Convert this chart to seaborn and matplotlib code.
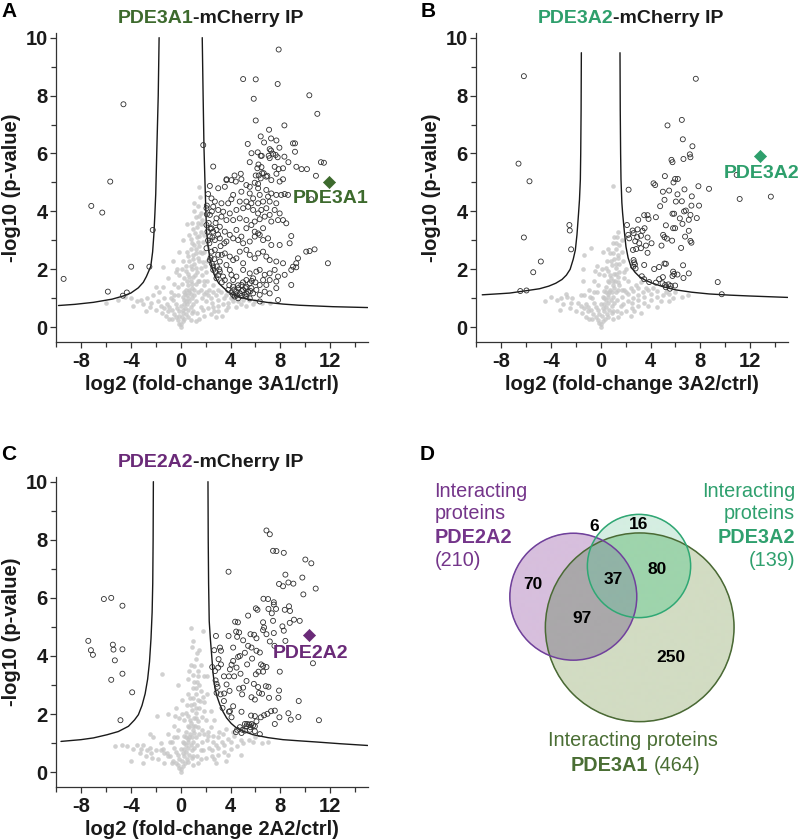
import numpy as np
import pandas as pd
import seaborn as sns
import matplotlib.pyplot as plt
from matplotlib.patches import Circle
from matplotlib.ticker import MultipleLocator

# --- 1. DATA (log2 fold-change, -log10 p-value) ---

# Panel A: PDE3A1-mCherry IP
A_SIG = [
    (7.86, 9.59), (5.01, 8.57), (6.02, 8.56), (7.78, 8.40), (5.86, 7.89), (10.32, 8.01), (10.96, 7.37),
    (6.02, 7.14), (8.32, 6.97), (7.09, 6.82), (6.42, 6.59), (7.25, 6.52), (6.69, 6.38), (5.38, 6.33),
    (7.68, 6.45), (9.01, 6.35), (9.17, 6.35), (1.81, 6.29), (7.92, 6.20), (7.14, 6.15), (7.25, 6.10),
    (5.68, 6.01), (6.18, 6.04), (6.42, 5.92), (6.50, 5.92), (9.17, 6.06), (7.41, 5.99), (7.62, 5.95),
    (7.78, 5.87), (7.06, 5.92), (7.14, 5.84), (8.32, 5.89), (5.54, 5.70), (6.24, 5.62), (6.15, 5.49),
    (6.48, 5.53), (7.54, 5.54), (7.86, 5.46), (8.21, 5.49), (8.64, 5.70), (9.28, 5.54), (9.70, 5.46),
    (10.13, 5.46), (11.25, 5.70), (11.49, 5.68), (2.61, 5.55), (4.82, 5.30), (4.32, 5.24), (6.02, 5.24),
    (6.26, 5.24), (6.53, 5.32), (6.66, 5.32), (6.95, 5.23), (7.68, 5.30), (10.85, 5.23), (3.68, 5.11),
    (10.48, 4.42), (6.35, 0.89),
    (3.67, 5.08), (4.07, 5.08), (4.42, 5.03), (4.87, 5.11), (5.27, 4.91), (5.54, 4.85), (5.94, 4.99),
    (6.21, 4.95), (6.42, 5.14), (6.87, 5.20), (7.27, 5.08), (7.94, 5.03), (8.21, 5.11),
    (2.34, 4.88), (3.01, 4.80), (3.54, 4.85), (4.21, 4.57), (4.87, 4.68), (5.54, 4.62), (5.81, 4.45),
    (6.21, 4.80), (6.34, 4.57), (6.87, 4.74), (7.01, 4.51), (7.27, 4.62), (7.67, 4.57), (8.07, 4.57),
    (8.34, 4.60), (8.61, 4.57), (4.74, 4.34), (5.27, 4.34), (5.67, 4.28), (6.21, 4.28), (6.61, 4.34),
    (7.14, 4.34), (2.47, 4.45), (2.74, 4.34), (3.27, 4.28), (3.81, 4.28), (4.07, 4.42), (7.67, 4.28),
    (2.07, 4.11), (2.61, 4.16), (3.01, 4.05), (3.41, 3.99), (3.94, 3.93), (4.47, 4.05), (5.01, 4.11),
    (5.41, 4.16), (5.81, 4.05), (6.21, 3.93), (6.47, 4.05), (6.87, 4.11), (7.14, 3.88), (7.54, 4.05),
    (7.94, 3.93), (8.21, 3.70), (2.34, 3.88), (2.87, 3.76), (3.27, 3.82), (3.67, 3.70), (4.21, 3.70),
    (4.74, 3.76), (5.27, 3.70), (5.94, 3.65), (6.34, 3.73), (6.74, 3.82), (7.27, 3.65), (7.81, 3.70),
    (8.47, 3.59),
    (2.07, 3.53), (2.47, 3.42), (2.87, 3.36), (3.14, 3.47), (3.54, 3.30), (3.94, 3.19), (4.47, 3.36),
    (4.87, 3.13), (5.27, 3.42), (5.67, 3.53), (5.94, 3.30), (6.21, 3.24), (6.61, 3.42), (7.01, 3.07),
    (7.27, 2.84), (7.94, 2.84), (8.74, 2.90), (8.87, 3.15), (2.34, 3.13), (2.74, 3.01), (3.14, 3.07),
    (3.67, 2.96), (4.21, 3.07), (4.61, 3.01), (5.01, 2.90), (5.54, 2.96), (5.94, 3.13), (6.34, 3.19),
    (6.61, 3.01),
    (2.07, 2.73), (2.47, 2.61), (2.74, 2.67), (3.01, 2.50), (3.54, 2.55), (3.94, 2.44), (4.21, 2.32),
    (4.47, 2.38), (5.01, 2.21), (5.54, 2.50), (5.94, 2.38), (6.21, 2.55), (6.61, 2.61), (6.87, 2.44),
    (7.14, 2.32), (7.67, 2.27), (8.21, 2.21), (9.41, 2.38), (9.27, 2.21), (10.07, 2.61), (10.34, 2.63),
    (10.74, 2.69), (11.81, 2.21), (2.34, 2.32), (3.14, 2.27), (3.67, 2.15), (4.74, 2.61), (5.27, 2.67),
    (2.61, 1.98), (3.14, 1.92), (3.94, 1.98), (4.07, 1.81), (4.47, 1.75), (5.01, 1.98), (5.54, 1.86),
    (6.07, 1.92), (6.34, 1.98), (6.74, 1.81), (7.14, 1.86), (7.54, 1.98), (7.81, 1.75), (8.34, 1.81),
    (8.87, 1.98), (9.01, 2.09), (9.27, 2.07), (2.87, 1.69), (3.54, 1.63), (4.21, 1.63), (5.27, 1.63),
    (5.81, 1.69), (6.61, 1.63), (7.14, 1.63), (7.67, 1.58), (8.87, 1.46),
    (3.81, 1.29), (4.07, 1.20), (4.21, 1.12), (4.47, 1.23), (4.61, 1.35), (4.74, 1.17), (4.87, 1.46),
    (5.01, 1.29), (5.14, 1.12), (5.27, 1.40), (5.41, 1.23), (5.54, 1.52), (5.67, 1.35), (5.81, 1.17),
    (4.34, 1.06), (4.61, 1.00), (4.87, 1.08), (5.27, 1.06), (5.54, 1.00), (6.07, 1.29), (6.34, 1.12),
    (6.74, 1.23), (7.14, 1.17), (7.81, 0.94), (7.67, 1.35), (6.34, 1.46), (6.87, 1.46),
    (4.30, 1.30), (4.50, 1.10), (4.90, 1.25), (5.20, 1.35), (5.30, 1.15), (5.60, 1.25), (4.60, 1.45),
    (5.00, 1.55), (4.20, 1.40), (3.90, 1.45), (5.70, 1.60), (6.00, 1.55),
    (2.10, 3.90), (2.15, 3.30), (2.20, 3.00), (2.30, 2.90), (2.25, 3.60), (2.40, 2.40), (2.50, 2.20),
    (2.60, 2.10), (2.55, 3.10), (2.70, 2.35), (2.80, 1.90), (2.90, 2.10), (3.00, 1.80), (3.10, 2.00),
    (3.30, 1.55), (3.40, 1.75), (2.40, 3.40), (2.60, 3.30), (2.80, 3.60), (3.00, 3.20), (3.20, 2.80),
    (3.30, 2.50), (3.50, 2.90), (2.10, 4.20), (2.20, 4.60), (2.50, 4.00),
    (-4.59, 7.70), (-5.65, 5.03), (-7.17, 4.19), (-6.29, 3.96), (-2.24, 3.36), (-2.51, 2.09),
    (-3.97, 2.09), (-9.39, 1.67), (-5.84, 1.23), (-4.32, 1.20), (-4.64, 1.09),
]
A_BG = [
    (0.00, 0.02), (0.05, 0.10), (-0.10, 0.12), (0.15, 0.20), (-0.20, 0.25), (0.30, 0.30), (-0.35, 0.35),
    (0.10, 0.35), (0.45, 0.45), (-0.50, 0.45), (0.20, 0.50), (-0.15, 0.55), (0.60, 0.60), (-0.70, 0.60),
    (0.35, 0.65), (0.80, 0.70), (-0.90, 0.70), (0.50, 0.80), (1.00, 0.80), (-0.40, 0.80), (-1.10, 0.80),
    (0.70, 0.90), (1.20, 0.90), (0.30, 0.95), (-0.60, 0.95), (0.90, 1.00), (-1.30, 1.00), (0.50, 1.10),
    (1.10, 1.10), (-0.20, 1.10), (0.70, 1.20), (1.40, 1.20), (-0.80, 1.20), (0.40, 1.30), (0.90, 1.35),
    (1.60, 1.30), (0.60, 1.45), (1.20, 1.50), (-0.50, 1.50), (0.80, 1.60), (1.50, 1.60), (0.30, 1.70),
    (1.00, 1.75), (1.70, 1.80), (0.60, 1.85), (1.30, 1.90), (0.90, 2.00), (1.60, 2.05), (0.40, 2.10),
    (1.10, 2.20), (1.80, 2.25), (0.70, 2.30), (1.40, 2.40), (1.00, 2.50), (1.70, 2.55), (0.50, 2.60),
    (1.20, 2.70), (1.50, 2.80), (0.90, 2.90), (1.80, 2.95), (1.30, 3.10), (0.70, 3.20), (1.60, 3.30),
    (1.00, 3.40), (0.50, 3.55), (1.40, 3.60), (1.20, 3.80), (1.60, 3.95), (1.35, 4.20), (1.55, 4.50),
    (1.50, 4.85), (-0.30, 2.00), (-0.60, 2.30), (-0.10, 2.60), (0.20, 3.00), (-1.00, 1.70),
    (-1.40, 1.40), (-1.39, 2.09), (0.10, 1.50), (0.20, 2.30), (0.80, 2.70), (1.90, 2.60), (1.90, 3.20),
    (1.75, 3.70), (1.10, 4.00),
    (0.15, 0.60), (0.25, 0.80), (0.40, 0.90), (0.55, 1.00), (0.35, 1.15), (0.65, 1.30), (0.85, 1.15),
    (1.05, 1.30), (0.50, 1.60), (0.70, 1.75), (0.90, 1.50), (1.15, 1.80), (1.35, 1.60), (0.45, 1.95),
    (0.80, 2.10), (1.20, 2.05), (1.50, 2.30), (0.60, 2.45), (0.95, 2.35), (1.25, 2.55), (1.55, 2.60),
    (1.10, 2.85), (1.35, 2.95), (0.80, 3.05), (1.15, 3.25), (1.45, 3.15), (0.90, 3.60), (1.30, 3.45),
    (1.65, 3.55), (1.45, 3.85), (1.05, 4.30), (-0.10, 0.40), (-0.30, 0.65), (-0.50, 1.10), (-0.80, 1.00),
    (-0.25, 1.40), (-0.10, 1.80), (0.10, 2.00), (-0.40, 1.90), (0.05, 0.75), (0.25, 1.20), (0.15, 1.05),
    (1.30, 0.50), (1.60, 0.70), (1.00, 0.55), (2.50, 0.85), (3.00, 0.95), (3.50, 1.00), (4.20, 1.05),
    (4.80, 0.80), (5.80, 0.80), (2.70, 0.55), (3.80, 0.70), (1.70, 1.00), (1.85, 1.15), (2.20, 1.10),
    (1.85, 1.60), (1.95, 2.10), (2.60, 1.20), (3.00, 1.30), (-1.00, 0.55), (-1.60, 0.75), (-2.40, 0.85),
    (-3.20, 0.95), (-2.70, 1.00), (-1.30, 0.65), (-0.70, 0.30), (0.60, 0.35), (0.90, 0.50),
    (1.80, 0.60), (2.20, 0.65), (2.60, 0.70), (3.00, 0.75), (3.40, 0.80), (3.80, 0.85), (4.20, 0.90),
    (4.60, 0.90), (5.00, 0.95), (5.50, 0.95), (6.00, 0.90), (2.00, 0.90), (2.40, 1.00), (2.80, 1.10),
    (3.20, 1.20), (3.60, 1.10), (4.00, 1.00), (2.30, 1.30), (2.60, 1.45), (2.10, 1.60), (1.90, 0.40),
    (2.40, 0.45), (3.00, 0.55), (3.60, 0.60), (4.40, 0.70), (5.20, 0.75), (6.50, 0.85), (7.20, 0.85),
    (1.50, 0.30), (1.20, 0.20), (0.80, 0.25), (2.80, 0.35), (3.30, 0.40), (2.00, 1.20), (1.90, 1.45),
    (2.00, 1.90), (2.10, 2.30),
    (-1.50, 0.50), (-2.00, 0.60), (-2.50, 0.70), (-3.00, 0.80), (-3.50, 0.90), (-4.00, 1.00),
    (-4.50, 1.05), (-5.00, 0.95), (-1.80, 0.90), (-2.20, 1.10), (-1.20, 0.40), (-0.90, 0.30),
    (-2.80, 0.55), (-3.80, 0.75), (-2.00, 1.40), (-1.70, 1.20), (-6.00, 0.85),
]
A_CURVE_L = [(-9.8, 0.75), (-8.5, 0.79), (-7.0, 0.86), (-5.5, 0.97), (-4.6, 1.08), (-4.0, 1.18),
             (-3.4, 1.36), (-3.0, 1.55), (-2.75, 1.75), (-2.4, 2.1), (-2.25, 2.6), (-2.15, 3.2),
             (-2.07, 3.9), (-2.0, 4.6), (-1.92, 6.0), (-1.8, 8.0), (-1.73, 10.0)]
A_CURVE_R = [(1.73, 10.0), (1.8, 8.0), (1.87, 6.2), (1.95, 5.0), (2.02, 4.0), (2.08, 3.3), (2.2, 2.8),
             (2.35, 2.35), (2.55, 2.0), (2.75, 1.75), (3.05, 1.52), (3.4, 1.38), (3.8, 1.22), (4.2, 1.13),
             (4.8, 1.03), (5.5, 0.96), (6.9, 0.86), (8.2, 0.8), (9.5, 0.76), (12.2, 0.71), (15.0, 0.68)]
A_HIT = (11.87, 5.03)
A_LABEL = (9.0, 4.45)

# Panel B: PDE3A2-mCherry IP
B_SIG = [
    (-6.16, 8.67), (7.63, 8.58), (6.51, 7.16), (5.36, 6.97), (6.59, 6.49), (7.36, 6.25), (-6.59, 5.65),
    (-5.71, 5.04), (7.15, 5.97), (7.20, 5.87), (6.64, 5.81), (5.68, 5.78), (5.76, 5.70), (5.15, 5.22),
    (10.91, 5.26), (5.97, 5.12), (6.19, 5.12), (5.84, 5.00), (4.24, 4.97), (4.37, 4.91), (2.24, 4.75),
    (7.84, 4.87), (8.69, 4.78), (4.99, 4.68), (5.49, 4.72), (6.16, 4.59), (6.72, 4.76), (5.12, 4.40),
    (11.15, 4.43), (13.65, 4.51), (6.03, 4.34), (7.31, 4.52), (6.51, 4.35), (4.77, 4.18), (7.28, 4.20),
    (7.89, 4.20), (5.89, 3.92), (5.76, 3.92), (6.69, 4.00), (6.83, 4.03), (3.49, 3.87), (3.76, 3.87),
    (3.84, 3.74), (4.43, 3.80), (3.01, 3.71), (6.35, 3.76), (7.20, 3.88), (7.71, 3.77), (7.07, 3.71),
    (2.11, 3.53), (5.23, 3.52), (5.81, 3.42), (5.97, 3.42), (6.56, 3.57), (3.52, 3.42), (2.96, 3.38),
    (2.56, 3.34), (3.36, 3.33), (7.07, 3.33), (2.21, 3.19), (2.29, 3.07), (2.64, 3.25), (2.93, 3.11),
    (3.23, 3.16), (3.76, 3.10), (5.01, 3.19), (5.12, 3.11), (5.31, 3.06), (6.77, 3.13), (7.20, 2.98),
    (7.28, 2.92), (5.73, 2.99), (2.77, 2.97), (3.09, 2.90), (3.63, 2.82), (4.08, 2.90), (3.23, 2.73),
    (2.85, 2.70), (2.59, 2.67), (6.45, 2.74), (3.76, 2.57), (4.88, 2.82), (2.64, 2.32), (2.69, 2.24),
    (2.75, 2.17), (2.61, 2.09), (2.80, 2.03), (3.49, 2.15), (4.29, 2.01), (4.69, 2.08), (5.12, 2.20),
    (5.23, 2.19), (6.61, 2.14), (5.81, 1.92), (5.89, 1.84), (5.76, 1.77), (6.16, 1.82), (7.07, 1.86),
    (6.64, 1.70), (4.99, 1.73), (3.30, 1.76), (3.49, 1.66), (4.69, 1.66), (3.89, 1.56), (4.43, 1.54),
    (4.96, 1.52), (5.17, 1.46), (5.44, 1.48), (5.63, 1.43), (5.97, 1.44), (5.55, 1.33), (5.23, 1.38),
    (9.39, 1.56), (9.71, 1.14),
    (-2.51, 3.53), (-2.48, 3.34), (-6.16, 3.10), (-2.37, 2.69), (-4.80, 2.27), (-5.41, 1.90),
    (-6.45, 1.25), (-5.95, 1.27),
]
B_BG = [
    (0.00, 0.02), (0.05, 0.10), (-0.10, 0.15), (0.20, 0.20), (-0.25, 0.25), (0.35, 0.30), (-0.40, 0.35),
    (0.10, 0.40), (0.50, 0.45), (-0.60, 0.45), (0.30, 0.55), (-0.20, 0.60), (0.70, 0.60), (-0.80, 0.60),
    (0.45, 0.70), (0.90, 0.75), (-1.00, 0.70), (0.60, 0.85), (1.10, 0.85), (-0.50, 0.85), (-1.20, 0.80),
    (0.80, 0.95), (1.30, 0.95), (0.30, 1.00), (-0.70, 1.00), (1.00, 1.05), (-1.30, 1.10), (0.55, 1.15),
    (1.20, 1.20), (-0.30, 1.20), (0.75, 1.30), (1.40, 1.30), (-0.90, 1.30), (0.40, 1.40), (0.95, 1.45),
    (1.50, 1.45), (0.65, 1.55), (1.15, 1.60), (-0.50, 1.60), (0.85, 1.70), (1.35, 1.75), (0.30, 1.80),
    (1.05, 1.85), (1.50, 1.90), (0.60, 1.95), (1.25, 2.05), (0.90, 2.15), (1.45, 2.20), (0.50, 2.30),
    (1.10, 2.35), (1.35, 2.50), (0.75, 2.55), (1.20, 2.70), (1.45, 2.85), (0.95, 2.90), (1.30, 3.10),
    (-0.77, 2.72), (-0.30, 2.10), (0.20, 2.60), (0.96, 4.89),
    (0.15, 0.65), (0.30, 0.80), (0.45, 0.95), (0.60, 1.05), (0.40, 1.20), (0.70, 1.20), (0.90, 1.20),
    (1.05, 1.35), (0.55, 1.60), (0.75, 1.80), (0.95, 1.60), (1.20, 1.85), (1.35, 1.55), (0.45, 2.05),
    (0.80, 2.30), (1.20, 2.20), (1.40, 2.40), (0.60, 2.70), (1.00, 2.55), (1.25, 2.90), (1.10, 3.10),
    (1.40, 3.30), (-0.10, 0.45), (-0.35, 0.70), (-0.55, 1.20), (-0.85, 1.05), (-0.25, 1.45),
    (-0.10, 1.85), (0.10, 2.00), (-0.45, 1.95), (0.05, 0.80), (0.25, 1.25), (0.15, 1.05), (1.30, 0.55),
    (1.60, 0.75), (1.00, 0.55), (2.50, 0.85), (3.00, 0.95), (3.50, 1.05), (4.00, 1.15), (4.80, 0.90),
    (5.80, 1.00), (2.70, 0.55), (3.80, 0.75), (1.70, 1.05), (1.85, 1.30), (2.20, 1.15), (1.90, 1.90),
    (2.60, 1.25), (3.00, 1.35), (-1.00, 0.55), (-1.60, 0.75), (-2.40, 0.85), (-3.20, 1.00),
    (-2.70, 1.05), (-1.30, 0.65), (-0.70, 0.30), (0.60, 0.35), (0.90, 0.50), (3.60, 1.35), (4.50, 1.25),
    (5.20, 1.20),
    (1.60, 0.50), (2.00, 0.55), (2.50, 0.65), (3.00, 0.75), (3.50, 0.85), (4.00, 0.95), (4.50, 1.05),
    (5.00, 1.10), (5.50, 1.15), (6.00, 1.20), (1.80, 0.80), (2.20, 0.90), (2.60, 1.00), (3.00, 1.10),
    (3.40, 1.20), (3.80, 1.30), (4.20, 1.35), (2.00, 1.20), (2.40, 1.35), (2.80, 1.45), (3.20, 1.55),
    (2.20, 1.60), (1.90, 1.70), (2.00, 2.00), (1.80, 2.30), (1.70, 1.30), (1.40, 0.35), (1.00, 0.30),
    (2.40, 0.40), (3.20, 0.50), (4.50, 0.70), (5.50, 0.90), (6.50, 1.05), (7.00, 1.10), (1.70, 2.60),
    (1.70, 3.00),
    (-1.50, 0.50), (-2.00, 0.55), (-2.50, 0.65), (-3.00, 0.80), (-3.50, 0.95), (-4.00, 1.05),
    (-1.80, 0.85), (-2.30, 1.00), (-2.80, 1.15), (-1.60, 1.10), (-1.40, 1.60), (-1.20, 0.35),
    (-0.90, 0.30), (-3.30, 0.60), (-4.50, 0.90), (-1.40, 2.00), (-1.30, 2.50),
]
B_CURVE_L = [(-9.5, 1.12), (-8.0, 1.16), (-7.3, 1.18), (-6.0, 1.26), (-4.9, 1.33), (-4.16, 1.42),
             (-3.6, 1.52), (-3.1, 1.65), (-2.75, 1.8), (-2.45, 2.0), (-2.2, 2.35), (-2.03, 2.67),
             (-1.9, 3.2), (-1.78, 3.9), (-1.7, 4.4), (-1.63, 5.1), (-1.6, 6.0), (-1.57, 7.5), (-1.55, 9.48)]
B_CURVE_R = [(1.55, 9.48), (1.57, 7.5), (1.6, 6.0), (1.63, 5.1), (1.7, 4.3), (1.76, 3.94), (1.9, 3.3),
             (2.03, 2.78), (2.2, 2.4), (2.43, 2.09), (2.75, 1.9), (3.1, 1.75), (3.6, 1.62), (4.16, 1.52),
             (5.0, 1.4), (6.03, 1.29), (7.3, 1.21), (8.7, 1.15), (10.3, 1.11), (11.9, 1.08), (15.0, 1.03)]
B_HIT = (12.77, 5.91)
B_LABEL = (9.89, 5.32)

# Panel C: PDE2A2-mCherry IP
C_SIG = [
    (6.88, 8.32), (7.15, 8.19), (7.41, 7.62), (7.68, 7.61), (8.27, 7.55), (10.00, 7.32), (10.48, 7.19),
    (3.84, 6.90), (8.40, 6.80), (9.76, 6.70), (7.89, 6.48), (8.21, 6.40), (8.64, 6.53), (9.04, 6.49),
    (10.83, 6.32), (9.84, 6.12), (6.64, 5.97), (7.01, 5.96), (7.47, 5.85), (7.47, 5.77), (6.03, 5.64),
    (6.16, 5.59), (7.04, 5.62), (7.65, 5.62), (8.35, 5.59), (8.69, 5.71), (8.77, 5.55), (5.41, 5.39),
    (7.31, 5.47), (6.61, 5.16), (6.69, 4.98), (4.37, 5.18), (4.59, 5.16), (7.41, 5.21), (9.09, 5.25),
    (9.55, 5.21), (8.75, 5.14), (8.16, 5.02), (8.27, 4.87), (7.47, 4.79), (4.45, 4.84), (4.69, 4.81),
    (2.83, 4.69), (3.84, 4.69), (4.53, 4.66), (5.01, 4.54), (5.60, 4.75), (5.89, 4.73), (6.08, 4.61),
    (6.61, 4.89), (6.88, 4.75), (7.15, 4.50), (7.52, 4.35), (8.40, 4.52), (5.68, 4.29), (5.41, 4.35),
    (6.08, 4.18), (6.35, 4.12), (5.15, 4.11), (3.15, 4.29), (3.23, 4.18), (4.21, 4.29), (4.75, 4.00),
    (4.61, 3.97), (5.73, 3.91), (2.69, 4.20), (3.04, 3.89), (3.23, 3.71), (3.01, 3.60), (4.21, 3.83),
    (4.08, 3.70), (4.48, 3.60), (3.95, 3.54), (5.33, 3.71), (6.45, 3.71), (6.61, 3.66), (6.88, 3.62),
    (10.61, 3.75), (2.53, 3.62), (2.75, 3.48), (3.47, 3.30), (3.87, 3.30), (4.29, 3.30), (4.80, 3.39),
    (6.03, 3.37), (6.24, 3.46), (6.61, 3.46), (7.95, 3.46), (2.80, 3.16), (2.88, 3.04), (2.96, 2.94),
    (3.68, 3.02), (5.28, 3.14), (5.87, 3.04), (6.21, 2.93), (6.83, 2.96), (7.04, 2.94), (7.89, 2.81),
    (4.69, 2.88), (5.01, 2.91), (3.20, 2.68), (3.49, 2.71), (3.92, 2.80), (2.88, 2.73), (4.93, 2.68),
    (5.68, 2.58), (5.95, 2.50), (6.29, 2.73), (6.53, 2.70), (7.09, 2.56), (7.84, 2.56), (9.47, 2.45),
    (3.47, 2.45), (4.21, 2.27), (3.36, 2.21), (3.95, 2.10), (4.88, 2.08), (5.65, 1.95), (5.95, 1.93),
    (6.43, 1.89), (6.69, 1.96), (6.96, 2.01), (7.25, 2.10), (7.55, 2.12), (7.92, 1.89), (8.64, 2.03),
    (8.83, 1.81), (9.44, 1.90), (11.09, 1.79), (7.55, 1.66), (3.87, 2.08), (4.08, 1.89), (5.15, 1.66),
    (5.33, 1.66), (5.49, 1.64), (5.68, 1.66), (5.81, 1.61), (5.28, 1.58), (5.60, 1.55), (5.95, 1.58),
    (4.75, 1.55), (4.96, 1.46), (4.53, 1.46), (5.15, 1.43), (5.55, 1.46), (5.95, 1.41), (4.43, 1.38),
    (4.88, 1.35), (6.35, 1.31), (6.08, 1.75),
    (-6.16, 5.96), (-5.57, 6.00), (-4.67, 5.73), (-7.41, 4.52), (-7.20, 4.20), (-7.04, 4.04),
    (-5.44, 4.39), (-5.39, 4.22), (-5.28, 3.85), (-4.67, 4.23), (-4.67, 3.39), (-5.57, 3.18),
    (-3.89, 2.75), (-4.83, 1.79),
]
C_BG = [
    (0.00, 0.02), (0.05, 0.10), (-0.10, 0.15), (0.20, 0.20), (-0.25, 0.25), (0.35, 0.30), (-0.40, 0.30),
    (0.10, 0.40), (0.50, 0.45), (-0.60, 0.40), (0.30, 0.55), (-0.20, 0.60), (0.70, 0.60), (-0.85, 0.55),
    (0.45, 0.70), (0.90, 0.75), (-1.10, 0.65), (0.60, 0.85), (1.10, 0.85), (-0.50, 0.85), (-1.40, 0.80),
    (0.80, 0.95), (1.30, 0.95), (0.30, 1.00), (-0.70, 1.05), (1.00, 1.05), (-1.60, 1.00), (0.55, 1.15),
    (1.20, 1.20), (-0.30, 1.20), (0.75, 1.30), (1.50, 1.30), (-1.00, 1.30), (0.40, 1.40), (0.95, 1.45),
    (1.70, 1.45), (0.65, 1.55), (1.15, 1.60), (-0.50, 1.60), (0.85, 1.70), (1.40, 1.75), (0.30, 1.80),
    (1.05, 1.85), (1.70, 1.90), (0.60, 1.95), (1.25, 2.05), (0.90, 2.15), (1.50, 2.20), (0.50, 2.30),
    (1.10, 2.35), (1.35, 2.50), (0.75, 2.55), (1.20, 2.70), (1.60, 2.80), (0.95, 2.90), (1.30, 3.10),
    (0.60, 3.20), (1.00, 3.35), (1.40, 3.50), (0.80, 3.70), (1.20, 3.90), (0.90, 4.30), (0.80, 4.98),
    (1.81, 4.87), (1.50, 4.20), (-1.52, 3.37), (-1.92, 1.93), (-0.40, 2.20), (0.10, 2.50), (-0.20, 3.00),
    (-2.20, 1.20), (-1.00, 2.00), (1.90, 3.30), (1.90, 2.40), (2.00, 1.80),
    (0.15, 0.65), (0.30, 0.80), (0.45, 0.95), (0.60, 1.05), (0.40, 1.20), (0.70, 1.20), (0.90, 1.20),
    (1.05, 1.35), (0.55, 1.60), (0.75, 1.80), (0.95, 1.60), (1.20, 1.85), (1.35, 1.55), (0.45, 2.05),
    (0.80, 2.30), (1.20, 2.20), (1.55, 2.45), (0.60, 2.70), (1.00, 2.55), (1.25, 2.90), (1.50, 3.00),
    (1.10, 3.10), (1.40, 3.30), (0.70, 3.50), (1.10, 3.65), (1.60, 3.70), (1.30, 4.10), (1.00, 4.50),
    (-0.10, 0.45), (-0.35, 0.70), (-0.55, 1.20), (-0.85, 1.05), (-0.25, 1.45), (-0.10, 1.85),
    (0.10, 2.00), (-0.45, 1.95), (0.05, 0.80), (0.25, 1.25), (0.15, 1.05), (1.30, 0.55), (1.60, 0.75),
    (1.00, 0.55), (2.50, 0.75), (3.00, 0.85), (3.50, 0.95), (4.00, 1.05), (4.80, 1.10), (5.80, 1.05),
    (2.70, 0.45), (3.80, 0.60), (1.70, 1.05), (1.85, 1.30), (2.20, 1.25), (1.90, 2.10), (1.80, 2.60),
    (2.60, 1.05), (3.00, 1.20), (-1.00, 0.55), (-1.60, 0.75), (-2.40, 0.65), (-3.20, 0.80),
    (-2.70, 0.75), (-1.30, 0.65), (-0.70, 0.30), (0.60, 0.35), (0.90, 0.50), (3.40, 1.30), (4.20, 1.40),
    (2.10, 2.70), (2.10, 3.30),
    (1.60, 0.45), (2.00, 0.50), (2.50, 0.55), (3.00, 0.60), (3.50, 0.70), (4.00, 0.80), (4.50, 0.90),
    (5.00, 1.00), (5.50, 1.10), (6.00, 1.20), (1.80, 0.75), (2.30, 0.85), (2.80, 0.95), (3.30, 1.05),
    (3.80, 1.15), (4.30, 1.25), (2.10, 1.10), (2.60, 1.25), (3.10, 1.40), (3.60, 1.50), (2.40, 1.55),
    (2.20, 1.40), (1.40, 0.30), (1.00, 0.25), (2.80, 0.30), (3.60, 0.40), (4.80, 0.60), (6.50, 1.00),
    (7.00, 1.05), (2.70, 1.80), (2.40, 2.10),
    (-1.80, 0.45), (-2.30, 0.50), (-2.80, 0.55), (-3.30, 0.65), (-3.80, 0.80), (-4.30, 0.90),
    (-4.70, 0.95), (-3.00, 0.95), (-3.50, 0.92), (-2.50, 0.85), (-2.00, 0.75), (-1.30, 0.30),
    (-4.00, 0.40), (-3.00, 0.30), (-5.30, 0.90), (-2.50, 1.30),
]
C_CURVE_L = [(-9.6, 1.06), (-8.0, 1.12), (-7.0, 1.18), (-5.9, 1.29), (-5.0, 1.4), (-4.19, 1.58),
             (-3.7, 1.8), (-3.39, 1.98), (-3.1, 2.3), (-2.85, 2.7), (-2.65, 3.2), (-2.5, 3.8),
             (-2.38, 4.6), (-2.29, 5.5), (-2.24, 6.5), (-2.21, 8.0), (-2.19, 10.0)]
C_CURVE_R = [(2.19, 10.0), (2.21, 8.0), (2.24, 6.5), (2.29, 5.2), (2.38, 4.6), (2.48, 4.06), (2.6, 3.4),
             (2.74, 2.91), (2.92, 2.6), (3.14, 2.33), (3.4, 2.08), (3.68, 1.87), (4.05, 1.68), (4.48, 1.52),
             (5.1, 1.4), (5.81, 1.29), (7.0, 1.19), (8.21, 1.12), (9.5, 1.08), (10.88, 1.04), (12.8, 0.98),
             (15.0, 0.92)]
C_HIT = (10.27, 4.72)
C_LABEL = (7.36, 4.10)

# Panel D: Venn region counts
VENN_ONLY_2A2 = 70
VENN_ONLY_3A2 = 16
VENN_ONLY_3A1 = 250
VENN_2A2_3A2 = 6
VENN_2A2_3A1 = 97
VENN_3A2_3A1 = 80
VENN_ALL = 37

# --- 2. STYLE ---
GREEN = "#3d6a2d"
TEAL = "#2e9f6c"
PURPLE = "#6a2a78"
GREY = "#c6c6c6"
INK = "#1a1a1a"

sns.set_theme(style="ticks")
plt.rcParams["font.family"] = ["Liberation Sans", "DejaVu Sans"]
plt.rcParams["font.weight"] = "bold"
plt.rcParams["axes.labelweight"] = "bold"
plt.rcParams["axes.unicode_minus"] = False
plt.rcParams["axes.edgecolor"] = "#333333"
plt.rcParams["xtick.color"] = "#333333"
plt.rcParams["ytick.color"] = "#333333"
plt.rcParams["xtick.labelcolor"] = INK
plt.rcParams["ytick.labelcolor"] = INK


def volcano(ax, sig, bg, curve_l, curve_r, hit, label_xy, name, color, xlabel):
    bg_df = pd.DataFrame(bg, columns=["fc", "p"])
    sig_df = pd.DataFrame(sig, columns=["fc", "p"])

    sns.scatterplot(data=bg_df, x="fc", y="p", ax=ax, color=GREY, s=11, linewidth=0,
                    alpha=0.8, legend=False, zorder=1)
    for cur in (curve_l, curve_r):
        cdf = pd.DataFrame(cur, columns=["fc", "p"])
        sns.lineplot(data=cdf, x="fc", y="p", ax=ax, sort=False, estimator=None,
                     color=INK, linewidth=1.0, zorder=2)
    sns.scatterplot(data=sig_df, x="fc", y="p", ax=ax, color="#2e2e2e", facecolor="none",
                    edgecolor="#2e2e2e", s=13, linewidth=0.6, legend=False, zorder=3)
    sns.scatterplot(x=[hit[0]], y=[hit[1]], ax=ax, marker="D", s=38, color=color,
                    edgecolor=color, legend=False, zorder=4)
    ax.text(label_xy[0], label_xy[1], name, color=color, fontsize=14, va="center",
            ha="left", zorder=5)

    # two-colour title
    ax.text(0.44, 1.034, name, transform=ax.transAxes, ha="right", va="baseline",
            color=color, fontsize=14)
    ax.text(0.44, 1.034, "-mCherry IP", transform=ax.transAxes, ha="left", va="baseline",
            color=INK, fontsize=14)

    ax.set_xlim(-10, 15)
    ax.set_ylim(-0.5, 10.15)
    ax.xaxis.set_major_locator(MultipleLocator(4))
    ax.xaxis.set_minor_locator(MultipleLocator(2))
    ax.yaxis.set_major_locator(MultipleLocator(2))
    ax.yaxis.set_minor_locator(MultipleLocator(1))
    ax.tick_params(which="major", length=4.5, width=0.9, labelsize=14.5)
    ax.tick_params(which="minor", length=3.5, width=0.9)
    ax.tick_params(axis="x", which="both", pad=3)
    ax.tick_params(axis="y", which="both", pad=1.5)
    ax.set_xlabel(xlabel, fontsize=14.5, labelpad=3, color=INK)
    ax.set_ylabel("-log10 (p-value)", fontsize=14.5, labelpad=3, color=INK)
    for sp in ax.spines.values():
        sp.set_linewidth(0.9)
    sns.despine(ax=ax)


# --- 3. FIGURE ---
fig = plt.figure(figsize=(8, 8.39), dpi=100)

ax_a = fig.add_axes([0.07, 0.5927, 0.3896, 0.3676])
ax_b = fig.add_axes([0.595, 0.5927, 0.3896, 0.3676])
ax_c = fig.add_axes([0.07, 0.0623, 0.3896, 0.3688])

volcano(ax_a, A_SIG, A_BG, A_CURVE_L, A_CURVE_R, A_HIT, A_LABEL, "PDE3A1", GREEN,
        "log2 (fold-change 3A1/ctrl)")
volcano(ax_b, B_SIG, B_BG, B_CURVE_L, B_CURVE_R, B_HIT, B_LABEL, "PDE3A2", TEAL,
        "log2 (fold-change 3A2/ctrl)")
volcano(ax_c, C_SIG, C_BG, C_CURVE_L, C_CURVE_R, C_HIT, C_LABEL, "PDE2A2", PURPLE,
        "log2 (fold-change 2A2/ctrl)")

# panel letters
for letter, px, py in [("A", 1, 16.7), ("B", 420.5, 16.7), ("C", 1.5, 460), ("D", 420, 460)]:
    fig.text(px / 800, 1 - py / 839, letter, fontsize=15, color="black", va="baseline", ha="left")

# --- 4. VENN (drawn in figure-pixel coordinates of the lower-right quarter) ---
vax = fig.add_axes([0.5, 0.0, 0.5, 439 / 839])

tot_2a2 = VENN_ONLY_2A2 + VENN_2A2_3A2 + VENN_2A2_3A1 + VENN_ALL
tot_3a2 = VENN_ONLY_3A2 + VENN_2A2_3A2 + VENN_3A2_3A1 + VENN_ALL
tot_3a1 = VENN_ONLY_3A1 + VENN_2A2_3A1 + VENN_3A2_3A1 + VENN_ALL

scale = 4.38  # px per sqrt(protein)
circ = {
    "2A2": ((573.3, 596.7), scale * np.sqrt(tot_2a2)),
    "3A2": ((639.0, 566.0), scale * np.sqrt(tot_3a2)),
    "3A1": ((639.7, 627.3), scale * np.sqrt(tot_3a1)),
}

# region colours look like multiply-blended fills, so paint each region directly
region_colors = {
    1: "#d7bfdd",  # 2A2 only
    2: "#d5eee2",  # 3A2 only
    3: "#b4b3c6",  # 2A2 & 3A2
    4: "#d2dcc3",  # 3A1 only
    5: "#aaa8aa",  # 2A2 & 3A1
    6: "#9ed4ac",  # 3A2 & 3A1
    7: "#91b3a6",  # all three
}
x0, x1, y0, y1 = 455, 765, 465, 745
gx, gy = np.meshgrid(np.linspace(x0, x1, 931), np.linspace(y0, y1, 841))


def inside(key):
    (cx, cy), r = circ[key]
    return ((gx - cx) ** 2 + (gy - cy) ** 2) <= r ** 2


code = inside("2A2") * 1 + inside("3A2") * 2 + inside("3A1") * 4
lut = np.zeros((8, 4))
for k, c in region_colors.items():
    lut[k] = plt.matplotlib.colors.to_rgba(c)
vax.imshow(lut[code], extent=(x0, x1, y0, y1), origin="lower", aspect="auto",
           interpolation="bilinear", zorder=1)

edges = {"3A1": "#4a6a34", "2A2": "#70409c", "3A2": "#2fa874"}
for key in ["3A1", "2A2", "3A2"]:
    (cx, cy), r = circ[key]
    vax.add_patch(Circle((cx, cy), r, fill=False, ec=edges[key], lw=1.1, zorder=2))

vax.set_xlim(400, 800)
vax.set_ylim(839, 400)
vax.axis("off")

counts = [
    (VENN_ONLY_2A2, 533.3, 585.0), (VENN_2A2_3A2, 594.0, 527.0), (VENN_ONLY_3A2, 638.3, 525.0),
    (VENN_ALL, 613.3, 580.0), (VENN_3A2_3A1, 657.5, 569.3), (VENN_2A2_3A1, 581.7, 619.0),
    (VENN_ONLY_3A1, 670.7, 657.3),
]
for n, tx, ty in counts:
    vax.text(tx, ty, str(n), ha="center", va="center", fontsize=12.5, color="black", zorder=3)

lab_purple = "#74358a"
lab_teal = "#2fa06e"
lab_green = "#4a6e34"
for txt, ty, w in [("Interacting", 496.7, "normal"), ("proteins", 519.3, "normal"),
                   ("PDE2A2", 542.7, "bold"), (f"({tot_2a2})", 565.7, "normal")]:
    vax.text(434.3, ty, txt, ha="left", va="baseline", fontsize=14.3, weight=w, color=lab_purple)
for txt, ty, w in [("Interacting", 496.7, "normal"), ("proteins", 519.3, "normal"),
                   ("PDE3A2", 542.7, "bold"), (f"({tot_3a2})", 565.7, "normal")]:
    vax.text(795, ty, txt, ha="right", va="baseline", fontsize=14.3, weight=w, color=lab_teal)
vax.text(632.5, 745.7, "Interacting proteins", ha="center", va="baseline", fontsize=14.3,
         weight="normal", color=lab_green)
vax.text(647.5, 770.7, "PDE3A1", ha="right", va="baseline", fontsize=14.3, weight="bold",
         color=lab_green)
vax.text(653.5, 770.7, f"({tot_3a1})", ha="left", va="baseline", fontsize=14.3,
         weight="normal", color=lab_green)

fig.savefig("out.png", dpi=100)
